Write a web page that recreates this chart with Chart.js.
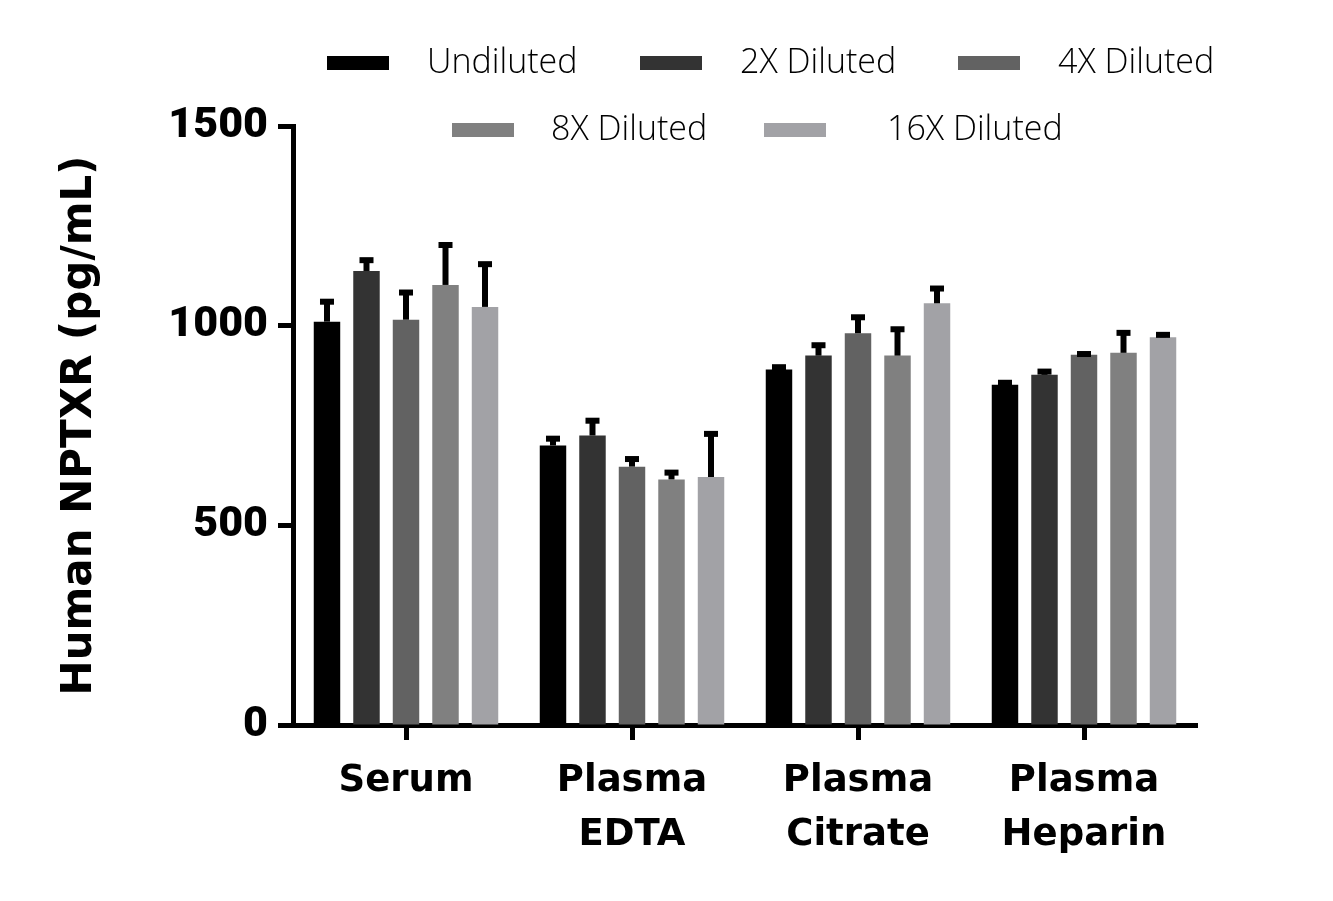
<!DOCTYPE html>
<html>
<head>
<meta charset="utf-8">
<script src="https://cdn.jsdelivr.net/npm/chart.js@4.4.0/dist/chart.umd.min.js"></script>
<style>
  html, body { margin: 0; padding: 0; background: #ffffff; }
</style>
</head>
<body>
<canvas id="graphNPTXR" width="1333" height="901"></canvas>
<script>
// categories (multi-line labels as arrays)
const categories = ['Serum', ['Plasma', 'EDTA'], ['Plasma', 'Citrate'], ['Plasma', 'Heparin']];

// mean values per dilution (pg/mL)
const undiluted = [1010, 700, 890, 852];
const diluted2x = [1137, 725, 925, 877];
const diluted4x = [1015, 647, 981, 927];
const diluted8x = [1102, 615, 925, 932];
const diluted16x = [1047, 621, 1056, 971];

// upper error (SD) per dilution
const err1x = [50, 17, 6, 5];
const err2x = [27, 37, 26, 8];
const err4x = [68, 19, 40, 2];
const err8x = [100, 17, 66, 50];
const err16x = [107, 108, 37, 6];

const yTicks = [0, 500, 1000, 1500];

// ------------------------------------------------------------------
// error bars (up only), drawn from the bar elements + y scale
const errorBarsPlugin = {
    id: 'errorBars',
    afterDatasetsDraw(chart) {
        const ctx = chart.ctx;
        const yScale = chart.scales.y;
        chart.data.datasets.forEach((ds, di) => {
            const meta = chart.getDatasetMeta(di);
            meta.data.forEach((bar, i) => {
                const top = yScale.getPixelForValue(ds.data[i] + ds.errors[i]);
                ctx.save();
                ctx.strokeStyle = '#000000';
                ctx.lineWidth = 6;
                ctx.beginPath();
                ctx.moveTo(bar.x, bar.y);
                ctx.lineTo(bar.x, top);
                ctx.stroke();
                ctx.fillStyle = '#000000';
                ctx.fillRect(bar.x - 7, top - 3, 14, 6);
                ctx.restore();
            });
        });
    }
};

// legend in two rows, overlapping the top of the plot like the original
const legendSlots = [
    { box: 327, text: 427, y: 63 },
    { box: 640, text: 740, y: 63 },
    { box: 958, text: 1058, y: 63 },
    { box: 452, text: 551, y: 130 },
    { box: 764, text: 887, y: 130 }
];
const legendPlugin = {
    id: 'twoRowLegend',
    afterDraw(chart) {
        const ctx = chart.ctx;
        ctx.save();
        ctx.textAlign = 'left';
        ctx.textBaseline = 'middle';
        ctx.font = '300 34px "Open Sans"';
        chart.data.datasets.forEach((ds, i) => {
            const s = legendSlots[i];
            ctx.fillStyle = ds.backgroundColor;
            ctx.fillRect(s.box, s.y - 7, 62, 14);
            ctx.fillStyle = '#000000';
            ctx.fillText(ds.label, s.text, s.y);
        });
        ctx.restore();
    }
};

const ctx = document.getElementById('graphNPTXR').getContext('2d');

new Chart(ctx, {
    type: 'bar',
    data: {
        labels: categories,
        datasets: [
            { label: 'Undiluted', data: undiluted, errors: err1x, backgroundColor: '#000000' },
            { label: '2X Diluted', data: diluted2x, errors: err2x, backgroundColor: '#333333' },
            { label: '4X Diluted', data: diluted4x, errors: err4x, backgroundColor: '#626262' },
            { label: '8X Diluted', data: diluted8x, errors: err8x, backgroundColor: '#808080' },
            { label: '16X Diluted', data: diluted16x, errors: err16x, backgroundColor: '#a2a2a6' }
        ]
    },
    options: {
        responsive: false,
        animation: false,
        categoryPercentage: 0.874,
        barPercentage: 0.67,
        layout: {
            padding: { top: 126, right: 136, bottom: 0, left: 0 }
        },
        plugins: {
            legend: { display: false },
            tooltip: { enabled: false }
        },
        scales: {
            x: {
                grid: {
                    display: true,
                    drawOnChartArea: false,
                    offset: false,
                    tickLength: 15,
                    tickWidth: 5,
                    tickColor: '#000000'
                },
                border: { display: true, color: '#000000', width: 5 },
                ticks: {
                    color: '#000000',
                    padding: 15,
                    maxRotation: 0,
                    autoSkip: false,
                    font: { family: 'DejaVu Sans', weight: 'bold', size: 37, lineHeight: 1.45 }
                },
                afterFit(scale) { scale.height = 176; }
            },
            y: {
                min: 0,
                max: 1500,
                afterBuildTicks(scale) {
                    scale.ticks = yTicks.map(v => ({ value: v }));
                },
                grid: {
                    drawOnChartArea: false,
                    tickLength: 15,
                    tickWidth: 5,
                    tickColor: '#000000'
                },
                border: { display: true, color: '#000000', width: 5 },
                ticks: {
                    color: '#000000',
                    padding: 10,
                    callback: (value) => String(value),
                    font: { family: 'Roboto', weight: '900', size: 43 }
                },
                title: {
                    display: true,
                    text: 'Human NPTXR (pg/mL)',
                    color: '#000000',
                    font: { family: 'DejaVu Sans', weight: 'bold', size: 42 },
                    padding: { top: 55, bottom: 0 }
                },
                afterFit(scale) { scale.width = 293; }
            }
        }
    },
    plugins: [errorBarsPlugin, legendPlugin]
});
</script>
</body>
</html>
